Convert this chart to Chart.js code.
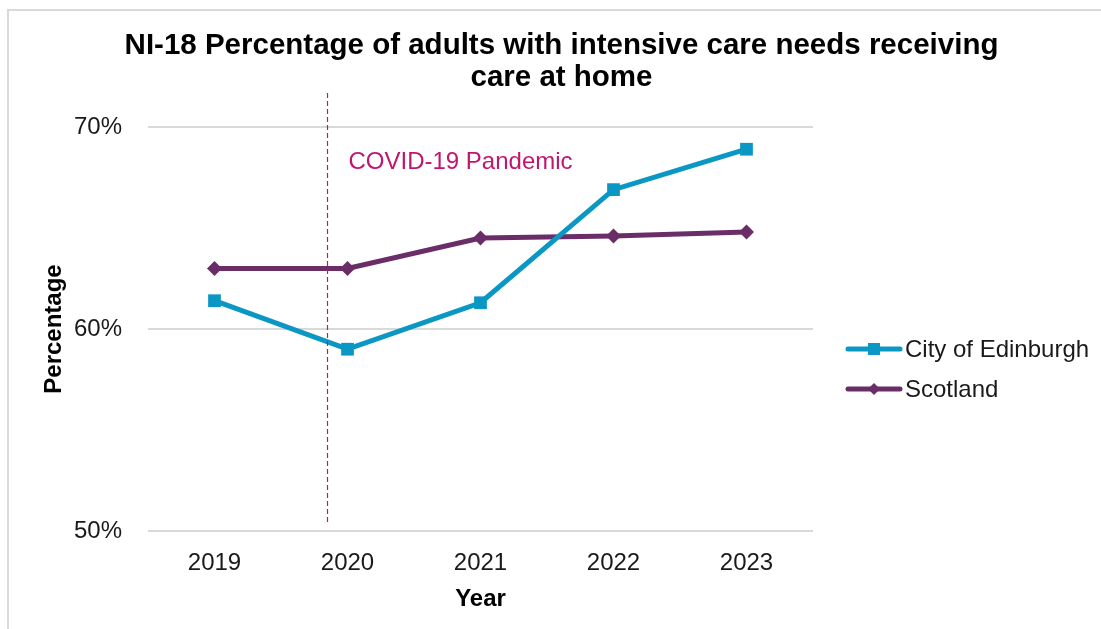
<!DOCTYPE html>
<html>
<head>
<meta charset="utf-8">
<script src="https://cdn.jsdelivr.net/npm/chart.js@4.4.1/dist/chart.umd.min.js"></script>
<style>
  html, body { margin: 0; padding: 0; background: #ffffff; }
  #wrap { position: relative; width: 1101px; height: 629px; overflow: hidden; }
  #frame { position: absolute; left: 7px; top: 9px; width: 2000px; height: 2000px;
           border-left: 2px solid #D9D9D9; border-top: 2px solid #D9D9D9; box-sizing: border-box; }
  canvas { position: absolute; left: 0; top: 0; }
</style>
</head>
<body>
<div id="wrap">
  <div id="frame"></div>
  <canvas id="chart" width="1101" height="629"></canvas>
</div>
<script>
// Reporting years on the x axis
const years = ['2019', '2020', '2021', '2022', '2023'];

// NI-18: % of adults with intensive care needs receiving care at home
const edinburghValues = [61.4, 59.0, 61.3, 66.9, 68.9];
const scotlandValues = [63.0, 63.0, 64.5, 64.6, 64.8];

// Y axis range and tick step (percent)
const yMin = 50;
const yMax = 70;
const yStep = 10;

// Chart heading, two lines
const titleLines = ['NI-18 Percentage of adults with intensive care needs receiving', 'care at home'];

// Where the pandemic marker sits, in category units (0 = 2019, 1 = 2020)
const pandemicPosition = 0.846;
const pandemicLabel = 'COVID-19 Pandemic';

const FONT = "'Liberation Sans', Arial, sans-serif";
const EDI_COLOR = '#0A97C4';
const SCO_COLOR = '#6B2D67';
const COVID_COLOR = '#C0176E';

// Two-line bold heading, centred over the whole frame
const heading = {
  id: 'heading',
  afterDraw(chart) {
    const { ctx } = chart;
    ctx.save();
    ctx.fillStyle = '#000000';
    ctx.font = 'bold 29.5px ' + FONT;
    ctx.textAlign = 'center';
    ctx.textBaseline = 'middle';
    const cx = chart.width / 2 + 11;
    titleLines.forEach((line, i) => ctx.fillText(line, cx, 46 + i * 31.5));
    ctx.restore();
  }
};

// Dashed vertical marker with its caption
const pandemicMarker = {
  id: 'pandemicMarker',
  afterDatasetsDraw(chart) {
    const { ctx, chartArea, scales } = chart;
    const x = Math.round(scales.x.getPixelForValue(pandemicPosition)) + 0.5;
    ctx.save();
    ctx.strokeStyle = COVID_COLOR;
    ctx.lineWidth = 1.2;
    ctx.setLineDash([5, 3]);
    ctx.beginPath();
    ctx.moveTo(x, chartArea.top - 34);
    ctx.lineTo(x, chartArea.bottom - 6);
    ctx.stroke();
    ctx.setLineDash([]);
    ctx.fillStyle = COVID_COLOR;
    ctx.font = '24px ' + FONT;
    ctx.textBaseline = 'middle';
    ctx.textAlign = 'left';
    ctx.fillText(pandemicLabel, x + 21, chartArea.top + 35);
    ctx.restore();
  }
};

// Legend on the right: line sample with the series marker, then the name
const lineLegend = {
  id: 'lineLegend',
  afterDraw(chart) {
    const { ctx, chartArea } = chart;
    const x0 = chartArea.right + 35;
    const rowY = [chartArea.top + 222, chartArea.top + 262];
    ctx.save();
    chart.data.datasets.forEach((ds, i) => {
      const y = rowY[i];
      ctx.strokeStyle = ds.borderColor;
      ctx.lineWidth = 5;
      ctx.lineCap = 'round';
      ctx.beginPath();
      ctx.moveTo(x0, y);
      ctx.lineTo(x0 + 52, y);
      ctx.stroke();
      ctx.fillStyle = ds.borderColor;
      const cx = x0 + 26;
      if (ds.pointStyle === 'rect') {
        ctx.fillRect(cx - 6, y - 6, 12, 12);
      } else {
        ctx.beginPath();
        ctx.moveTo(cx, y - 6);
        ctx.lineTo(cx + 6, y);
        ctx.lineTo(cx, y + 6);
        ctx.lineTo(cx - 6, y);
        ctx.closePath();
        ctx.fill();
      }
      ctx.fillStyle = '#1a1a1a';
      ctx.font = '24px ' + FONT;
      ctx.textBaseline = 'middle';
      ctx.textAlign = 'left';
      ctx.fillText(ds.label, x0 + 57, y + 1);
    });
    ctx.restore();
  }
};

new Chart(document.getElementById('chart'), {
  type: 'line',
  data: {
    labels: years,
    datasets: [
      {
        label: 'City of Edinburgh',
        data: edinburghValues,
        borderColor: EDI_COLOR,
        backgroundColor: EDI_COLOR,
        borderWidth: 5,
        pointStyle: 'rect',
        pointRadius: 9,
        pointHoverRadius: 9,
        pointBorderWidth: 0,
        tension: 0
      },
      {
        label: 'Scotland',
        data: scotlandValues,
        borderColor: SCO_COLOR,
        backgroundColor: SCO_COLOR,
        borderWidth: 5,
        pointStyle: 'rectRot',
        pointRadius: 7.5,
        pointHoverRadius: 7.5,
        pointBorderWidth: 0,
        tension: 0
      }
    ]
  },
  options: {
    responsive: false,
    animation: false,
    events: [],
    layout: { padding: { left: 0, right: 288, top: 127, bottom: 0 } },
    plugins: {
      legend: { display: false },
      tooltip: { enabled: false },
      title: { display: false }
    },
    scales: {
      x: {
        offset: true,
        grid: { display: false, drawTicks: false },
        border: { display: false },
        ticks: { color: '#1a1a1a', font: { family: FONT, size: 24 }, padding: 18, maxRotation: 0 },
        title: {
          display: true,
          text: 'Year',
          color: '#000000',
          font: { family: FONT, size: 24, weight: 'bold' },
          padding: { top: 0, bottom: 15 }
        },
        afterFit(scale) { scale.height = 98; }
      },
      y: {
        min: yMin,
        max: yMax,
        grid: { color: '#D9D9D9', lineWidth: 2, drawTicks: false },
        border: { display: false },
        ticks: {
          stepSize: yStep,
          color: '#1a1a1a',
          font: { family: FONT, size: 24 },
          padding: 26,
          callback: (v) => v + '%'
        },
        title: {
          display: true,
          text: 'Percentage',
          color: '#000000',
          font: { family: FONT, size: 24, weight: 'bold' },
          padding: { top: 40, bottom: 0 }
        },
        afterFit(scale) { scale.width = 148; }
      }
    }
  },
  plugins: [pandemicMarker, lineLegend, heading]
});
</script>
</body>
</html>
